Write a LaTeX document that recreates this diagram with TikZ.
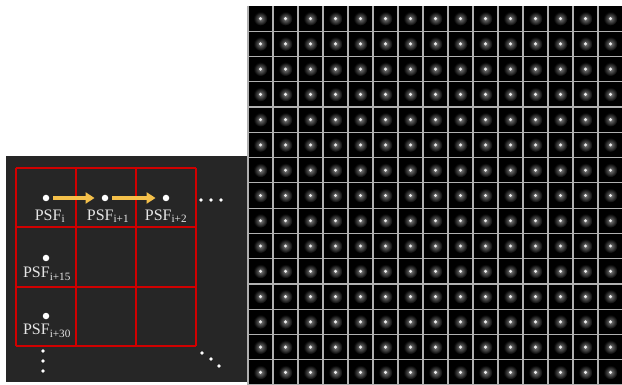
\documentclass[tikz,border=0pt]{standalone}
\usepackage{fontspec}
\setmainfont{Liberation Serif}
\usetikzlibrary{arrows.meta}
\begin{document}
\begin{tikzpicture}[x=1pt,y=-1pt,
  panel/.style={fill=panelgray,draw=none},
  redline/.style={draw=psfred,line width=1.4pt},
  psfdot/.style={circle,fill=white,inner sep=0pt,minimum size=6.5pt},
  smalldot/.style={circle,fill=white,inner sep=0pt,minimum size=3.6pt},
  psflabel/.style={text=labelgray,font=\fontsize{16}{18}\selectfont,inner sep=0pt},
  shiftarrow/.style={draw=arrowyellow,line width=3.6pt,-{Triangle[length=9pt,width=11pt]},shorten <=4pt,shorten >=7pt},
  gridline/.style={draw=gridgray,line width=1.2pt}]
\definecolor{panelgray}{HTML}{262626}
\definecolor{psfred}{HTML}{D00000}
\definecolor{labelgray}{HTML}{E6E6E6}
\definecolor{arrowyellow}{HTML}{F4C04A}
\definecolor{gridgray}{HTML}{B0B0B0}
\useasboundingbox (0,0) rectangle (622,385);
\fill[white] (0,0) rectangle (622,385);
% left panel
\fill[panel] (6,156) rectangle (247,382);
\foreach \x in {16,76,136,196} \draw[redline] (\x,168) -- (\x,346);
\foreach \y in {168,227,287,346} \draw[redline] (16,\y) -- (196,\y);
\node[psfdot] (d0) at (46,198) {};
\node[psfdot] (d1) at (105,198) {};
\node[psfdot] (d2) at (166,198) {};
\node[psfdot] (d15) at (46,258) {};
\node[psfdot] (d30) at (46,316) {};
\node[psflabel] (l0) at (50,216) {PSF\textsubscript{i}};
\node[psflabel] (l1) at (108,216) {PSF\textsubscript{i+1}};
\node[psflabel] (l2) at (166,216) {PSF\textsubscript{i+2}};
\node[psflabel] (l15) at (47,274) {PSF\textsubscript{i+15}};
\node[psflabel] (l30) at (47,331) {PSF\textsubscript{i+30}};
\draw[shiftarrow] (d0) -- (d1);
\draw[shiftarrow] (d1) -- (d2);
\foreach \x/\n in {201/h1,211/h2,221/h3} \node[smalldot] (\n) at (\x,200) {};
\foreach \y/\n in {351/v1,361/v2,371/v3} \node[smalldot] (\n) at (43,\y) {};
\foreach \x/\y/\n in {202/353/g1,211/359/g2,219/366/g3} \node[smalldot] (\n) at (\x,\y) {};
% right grid of PSFs
\fill[black] (248,6) rectangle (622,385);
\foreach \i in {0,...,14} {
  \foreach \j in {0,...,14} {
    \pgfmathsetmacro{\cx}{248+25*\i+12.5}
    \pgfmathsetmacro{\cy}{6+25.27*\j+12.6}
    \shade[inner color=white!50!black,outer color=black] (\cx,\cy) circle (7);
    \fill[white!92!black] (\cx,\cy) circle (1.7);
  }
}
\foreach \i in {0,...,15} \draw[gridline] (248+25*\i,6) -- (248+25*\i,385);
\foreach \j in {1,...,15} \draw[gridline] (248,6+25.27*\j) -- (622,6+25.27*\j);
\end{tikzpicture}
\end{document}
